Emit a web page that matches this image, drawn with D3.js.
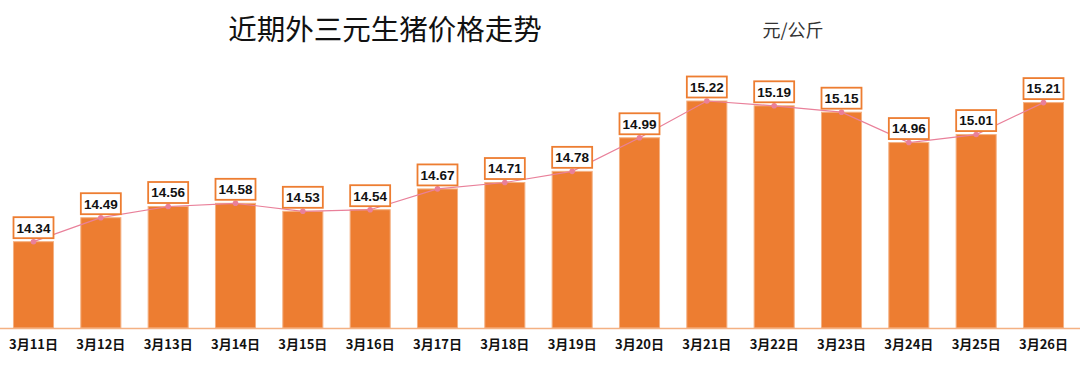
<!DOCTYPE html>
<html><head><meta charset="utf-8">
<script src="https://cdn.jsdelivr.net/npm/d3@7"></script>
<style>body{margin:0;background:#fff;}svg{display:block;}</style>
</head><body>
<svg id="c" width="1080" height="375"></svg>
<script>
const categories = ["3月11日","3月12日","3月13日","3月14日","3月15日","3月16日","3月17日","3月18日","3月19日","3月20日","3月21日","3月22日","3月23日","3月24日","3月25日","3月26日"];
const prices = [14.34,14.49,14.56,14.58,14.53,14.54,14.67,14.71,14.78,14.99,15.22,15.19,15.15,14.96,15.01,15.21];
const title = "近期外三元生猪价格走势";
const unit = "元/公斤";

const svg = d3.select("#c");
const baseY = 328;
const x = d3.scaleBand().domain(categories).range([0, 1077]).paddingInner(0.405).paddingOuter(0.2);
const y = d3.scaleLinear().domain([13.8, 15.22]).range([baseY, 101]);

svg.append("text").attr("x", 385).attr("y", 40).attr("text-anchor", "middle")
  .attr("font-family", "Noto Sans CJK SC").attr("font-size", 28.5).attr("fill", "#111").text(title);
svg.append("text").attr("x", 793).attr("y", 37).attr("text-anchor", "middle")
  .attr("font-family", "Noto Sans CJK SC").attr("font-size", 18).attr("fill", "#333").text(unit);

svg.selectAll("rect.bar").data(prices).join("rect").attr("class", "bar")
  .attr("x", (d, i) => x(categories[i])).attr("width", x.bandwidth())
  .attr("y", d => y(d)).attr("height", d => baseY - y(d))
  .attr("fill", "#ED7D31").attr("stroke", "#F4B183").attr("stroke-width", 1);

const xAxis = svg.append("g").attr("transform", `translate(0,${baseY})`)
  .call(d3.axisBottom(x).tickSize(0).tickPadding(12));
xAxis.select(".domain").attr("stroke", "#F4B183").attr("stroke-width", 1.5).attr("d", "M0,0.5H1080");
xAxis.selectAll("text").attr("font-family", "Noto Sans CJK SC").attr("font-weight", "bold")
  .attr("font-size", 13).attr("fill", "#111");

const cx = (d, i) => x(categories[i]) + x.bandwidth() / 2;
const line = d3.line().x((d, i) => cx(d, i)).y(d => y(d));
svg.append("path").datum(prices).attr("d", line).attr("fill", "none")
  .attr("stroke", "#E9809A").attr("stroke-width", 1.2);
svg.selectAll("circle.pt").data(prices).join("circle").attr("class", "pt")
  .attr("cx", cx).attr("cy", d => y(d)).attr("r", 2.8).attr("fill", "#E9809A");

const lab = svg.selectAll("g.lab").data(prices).join("g").attr("class", "lab")
  .attr("transform", (d, i) => `translate(${cx(d, i)},${y(d) - 14})`);
lab.append("rect").attr("x", -20).attr("y", -10.5).attr("width", 40).attr("height", 21)
  .attr("fill", "#fff").attr("stroke", "#ED7D31").attr("stroke-width", 1.8);
lab.append("text").attr("text-anchor", "middle").attr("dy", "0.36em")
  .attr("font-family", "Liberation Sans, Arial, sans-serif").attr("font-weight", "bold")
  .attr("font-size", 13.5).attr("fill", "#111").text(d => d.toFixed(2));
</script>
</body></html>
